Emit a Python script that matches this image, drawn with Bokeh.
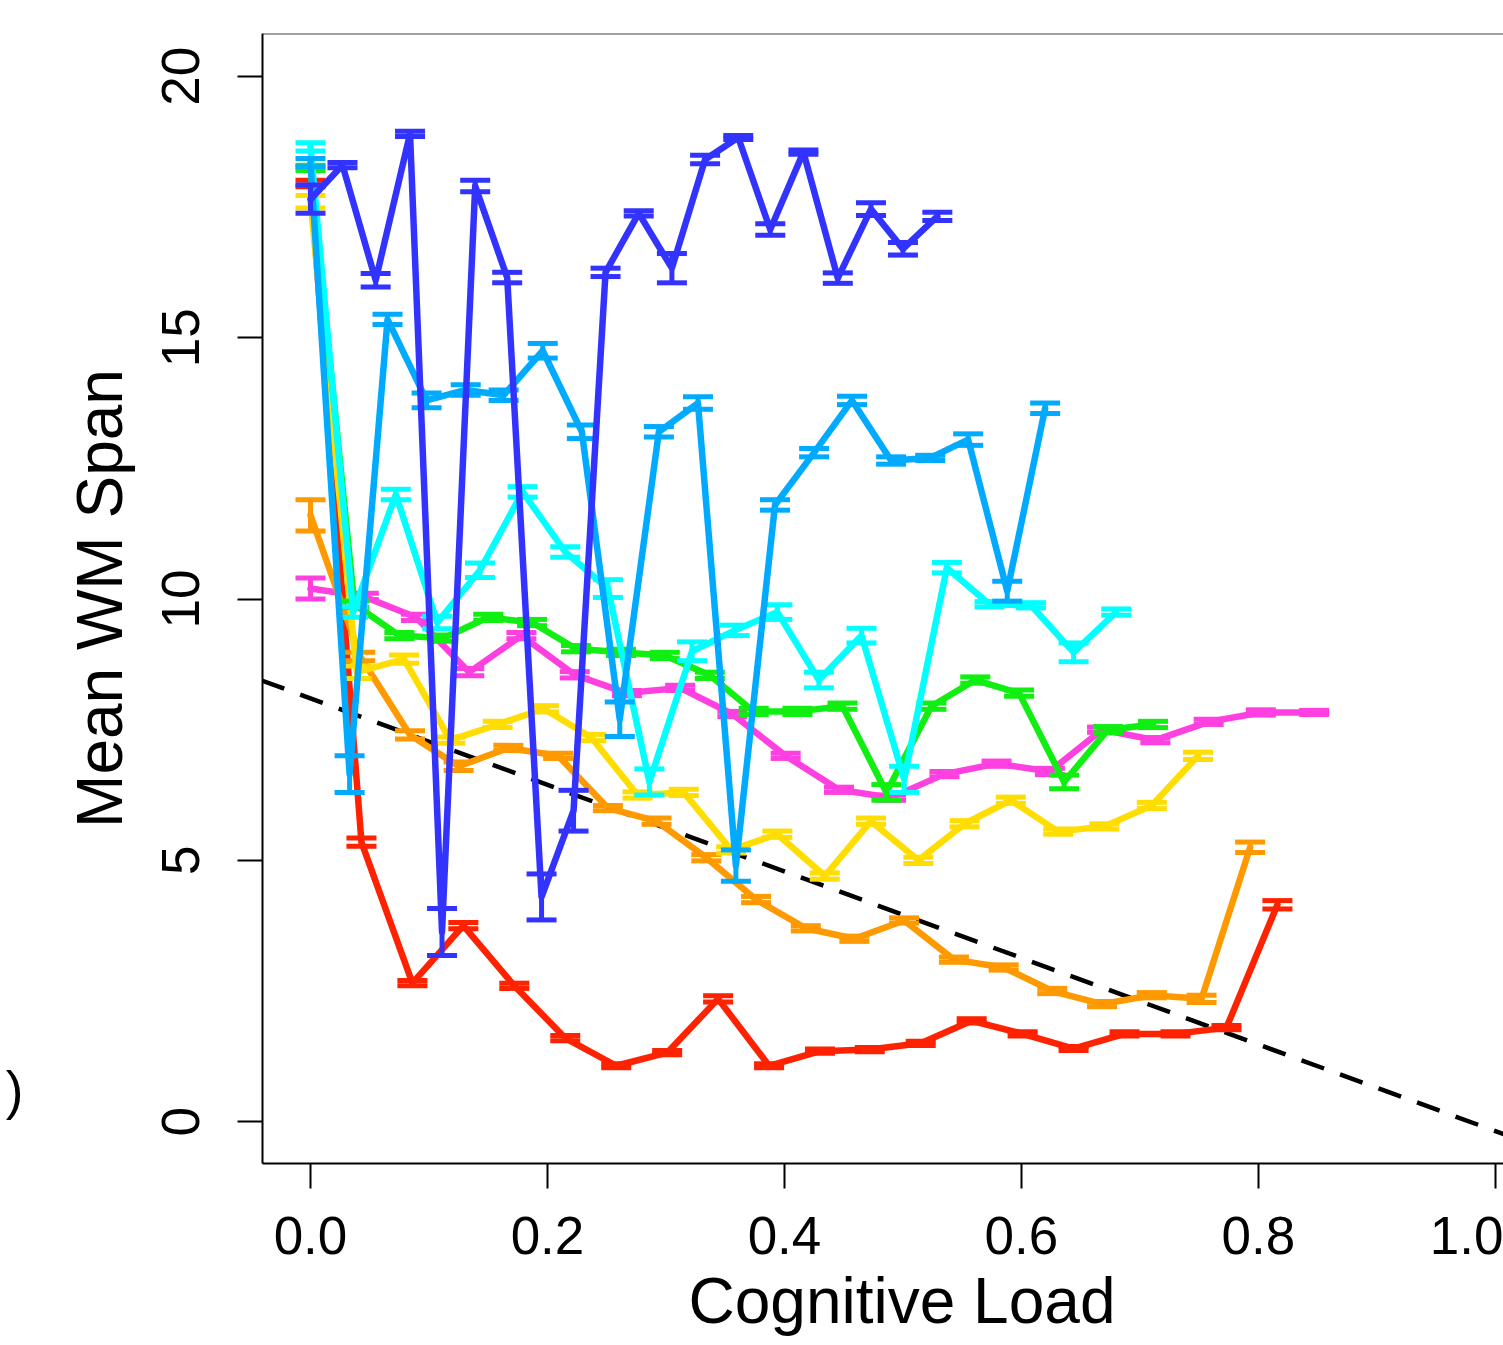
import math
from bokeh.plotting import figure
from bokeh.models import (Range1d, FixedTicker, NumeralTickFormatter, Slope, Span, Title,
                          LinearAxis, CustomJSTickFormatter)
from bokeh.embed import file_html
from bokeh.resources import INLINE

# ---------------- data ----------------
x_ticks = [0.0, 0.2, 0.4, 0.6, 0.8, 1.0]
y_ticks = [0, 5, 10, 15, 20]

red_x = [0, 0.043, 0.086, 0.129, 0.172, 0.215, 0.258, 0.301, 0.344, 0.387,
         0.430, 0.472, 0.515, 0.558, 0.601, 0.644, 0.687, 0.730, 0.773, 0.816]
red_y = [17.95, 5.35, 2.65, 3.75, 2.6, 1.6, 1.07, 1.32, 2.35, 1.07,
         1.35, 1.38, 1.5, 1.93, 1.68, 1.4, 1.68, 1.68, 1.8, 4.15]
red_se = [0.06, 0.08, 0.05, 0.06, 0.05, 0.05, 0.04, 0.04, 0.06, 0.04,
          0.04, 0.04, 0.04, 0.04, 0.04, 0.04, 0.04, 0.04, 0.04, 0.08]

orange_x = [0, 0.042, 0.084, 0.125, 0.167, 0.209, 0.251, 0.292, 0.334, 0.376,
            0.418, 0.459, 0.501, 0.543, 0.585, 0.626, 0.668, 0.710, 0.752, 0.793]
orange_y = [11.6, 8.9, 7.4, 6.8, 7.15, 7.0, 6.0, 5.75, 5.05, 4.25,
            3.7, 3.5, 3.85, 3.1, 2.95, 2.5, 2.25, 2.42, 2.35, 5.25]
orange_se = [0.3, 0.08, 0.08, 0.08, 0.05, 0.05, 0.05, 0.06, 0.06, 0.06,
             0.05, 0.05, 0.05, 0.05, 0.05, 0.05, 0.05, 0.05, 0.07, 0.1]

yellow_x = [0, 0.039, 0.079, 0.118, 0.158, 0.197, 0.237, 0.276, 0.315, 0.355,
            0.394, 0.434, 0.473, 0.513, 0.552, 0.591, 0.631, 0.670, 0.710, 0.749]
yellow_y = [17.6, 8.6, 8.85, 7.3, 7.6, 7.9, 7.35, 6.25, 6.3, 5.2,
            5.5, 4.7, 5.75, 5.0, 5.7, 6.15, 5.55, 5.65, 6.05, 7.0]
yellow_se = [0.12, 0.12, 0.08, 0.06, 0.06, 0.06, 0.06, 0.06, 0.06, 0.06,
             0.06, 0.06, 0.06, 0.06, 0.06, 0.06, 0.05, 0.05, 0.06, 0.07]

green_x = [0, 0.037, 0.075, 0.112, 0.150, 0.187, 0.224, 0.262, 0.299, 0.337,
           0.374, 0.411, 0.449, 0.486, 0.524, 0.561, 0.598, 0.636, 0.673, 0.711]
green_y = [18.25, 9.9, 9.3, 9.25, 9.65, 9.55, 9.05, 8.98, 8.92, 8.54,
           7.85, 7.85, 7.95, 6.3, 7.95, 8.45, 8.2, 6.5, 7.5, 7.6]
green_se = [0.05, 0.06, 0.06, 0.06, 0.06, 0.06, 0.06, 0.06, 0.06, 0.06,
            0.06, 0.06, 0.06, 0.15, 0.06, 0.06, 0.06, 0.13, 0.06, 0.06]

cyan_x = [0, 0.036, 0.072, 0.107, 0.143, 0.179, 0.215, 0.251, 0.286, 0.322,
          0.358, 0.394, 0.429, 0.465, 0.501, 0.537, 0.573, 0.608, 0.644, 0.680]
cyan_y = [18.65, 9.75, 12.0, 9.55, 10.55, 12.05, 10.9, 10.2, 6.5, 9.0,
          9.4, 9.75, 8.45, 9.3, 6.55, 10.6, 9.9, 9.88, 8.98, 9.75]
cyan_se = [0.08, 0.1, 0.1, 0.12, 0.14, 0.1, 0.1, 0.17, 0.25, 0.18,
           0.1, 0.14, 0.15, 0.14, 0.25, 0.1, 0.05, 0.05, 0.18, 0.06]

skyblue_x = [0, 0.033, 0.065, 0.098, 0.131, 0.163, 0.196, 0.229, 0.261, 0.294,
             0.327, 0.359, 0.392, 0.425, 0.457, 0.490, 0.523, 0.555, 0.588, 0.620]
skyblue_y = [18.35, 6.65, 15.35, 13.8, 14.0, 13.9, 14.75, 13.2, 7.7, 13.2,
             13.75, 4.9, 11.8, 12.8, 13.8, 12.65, 12.7, 13.05, 10.15, 13.65]
skyblue_se = [0.08, 0.35, 0.1, 0.14, 0.1, 0.1, 0.14, 0.13, 0.33, 0.1,
              0.12, 0.3, 0.1, 0.08, 0.08, 0.07, 0.05, 0.11, 0.19, 0.1]

blue_x = [0, 0.027, 0.055, 0.084, 0.111, 0.139, 0.166, 0.195, 0.222, 0.249,
          0.277, 0.305, 0.333, 0.361, 0.388, 0.416, 0.445, 0.473, 0.500, 0.529]
blue_y = [17.65, 18.3, 16.1, 18.9, 3.63, 17.9, 16.15, 4.3, 5.95, 16.25,
          17.38, 16.33, 18.41, 18.83, 17.07, 18.55, 16.14, 17.46, 16.7, 17.32]
blue_se = [0.27, 0.05, 0.13, 0.05, 0.45, 0.11, 0.1, 0.44, 0.39, 0.08,
           0.05, 0.28, 0.08, 0.04, 0.11, 0.04, 0.1, 0.12, 0.12, 0.08]

magenta_x = [0, 0.045, 0.089, 0.134, 0.178, 0.223, 0.267, 0.312, 0.356, 0.401,
             0.446, 0.490, 0.535, 0.579, 0.624, 0.668, 0.713, 0.758, 0.802, 0.847]
magenta_y = [10.2, 10.05, 9.65, 8.6, 9.3, 8.55, 8.2, 8.3, 7.8, 7.0,
             6.35, 6.2, 6.65, 6.85, 6.7, 7.5, 7.3, 7.65, 7.83, 7.83]
magenta_se = [0.2, 0.06, 0.06, 0.07, 0.06, 0.06, 0.05, 0.05, 0.05, 0.05,
              0.05, 0.05, 0.05, 0.05, 0.06, 0.05, 0.05, 0.05, 0.05, 0.04]

ref_intercept = 8.1
ref_slope = -8.28

panel_tag_y = [0.6]   # where the cut-off panel tag ")" sits

series = [
    ("#FF40E0", magenta_x, magenta_y, magenta_se),
    ("#FF2200", red_x, red_y, red_se),
    ("#FF9900", orange_x, orange_y, orange_se),
    ("#FFDD00", yellow_x, yellow_y, yellow_se),
    ("#11EE11", green_x, green_y, green_se),
    ("#00FFFF", cyan_x, cyan_y, cyan_se),
    ("#00AAFF", skyblue_x, skyblue_y, skyblue_se),
    ("#3333FF", blue_x, blue_y, blue_se),
]

FONT = "Liberation Sans"

p = figure(width=1503, height=1345, output_backend="svg", toolbar_location=None,
           x_range=Range1d(-0.0405, 1.0068), y_range=Range1d(-0.80, 20.82),
           min_border_left=262, min_border_right=0, min_border_top=33,
           min_border_bottom=182)
p.grid.visible = False
p.outline_line_color = None
p.background_fill_color = "white"
p.border_fill_color = "white"

# reference dashed line
p.add_layout(Slope(gradient=ref_slope, y_intercept=ref_intercept,
                   line_color="black", line_width=4.5, line_dash="24 17",
                   level="underlay"))

for color, xs, ys, ses in series:
    up = [y + s for y, s in zip(ys, ses)]
    lo = [y - s for y, s in zip(ys, ses)]
    p.line(xs, ys, line_color=color, line_width=6.5, line_join="round", line_cap="round")
    p.segment(x0=xs, y0=lo, x1=xs, y1=up, line_color=color, line_width=5)
    p.scatter(xs, up, marker="dash", size=30, line_color=color, line_width=5)
    p.scatter(xs, lo, marker="dash", size=30, line_color=color, line_width=5)

# top border of the box
p.add_layout(Span(location=20.82, dimension="width", line_color="#444444", line_width=2))

for ax in (p.xaxis[0], p.yaxis[0]):
    ax.axis_line_color = "black"
    ax.axis_line_width = 2
    ax.major_tick_line_color = "black"
    ax.major_tick_line_width = 2
    ax.major_tick_out = 25
    ax.major_tick_in = 0
    ax.minor_tick_out = 0
    ax.minor_tick_in = 0
    ax.major_label_text_font = FONT
    ax.major_label_text_font_size = "53px"
    ax.major_label_text_color = "black"
    ax.axis_label_text_font = FONT
    ax.axis_label_text_font_size = "64px"
    ax.axis_label_text_font_style = "normal"
    ax.axis_label_text_color = "black"

p.xaxis.ticker = FixedTicker(ticks=x_ticks)
p.xaxis.formatter = NumeralTickFormatter(format="0.0")
p.xaxis.major_label_standoff = 28
p.yaxis.ticker = FixedTicker(ticks=y_ticks)
p.yaxis.major_label_orientation = "vertical"
p.yaxis.major_label_standoff = 38
p.yaxis.axis_label = "Mean WM Span"
p.yaxis.axis_label_standoff = 24

p.add_layout(Title(text="Cognitive Load", align="left", offset=426,
                   text_font=FONT, text_font_size="64px", text_font_style="normal",
                   text_color="black", standoff=12), "below")

# cut-off panel tag ")" at the far left, drawn as an extra tick-label-only axis
tag_axis = LinearAxis(ticker=FixedTicker(ticks=panel_tag_y),
                      formatter=CustomJSTickFormatter(code="return ')'"),
                      axis_line_color=None, major_tick_line_color=None,
                      minor_tick_line_color=None, major_tick_out=0, major_tick_in=0,
                      major_label_standoff=37, major_label_orientation="horizontal",
                      major_label_text_font=FONT, major_label_text_font_size="53px",
                      major_label_text_color="black")
p.add_layout(tag_axis, "left")

open("out.html", "w").write(file_html(p, INLINE))
